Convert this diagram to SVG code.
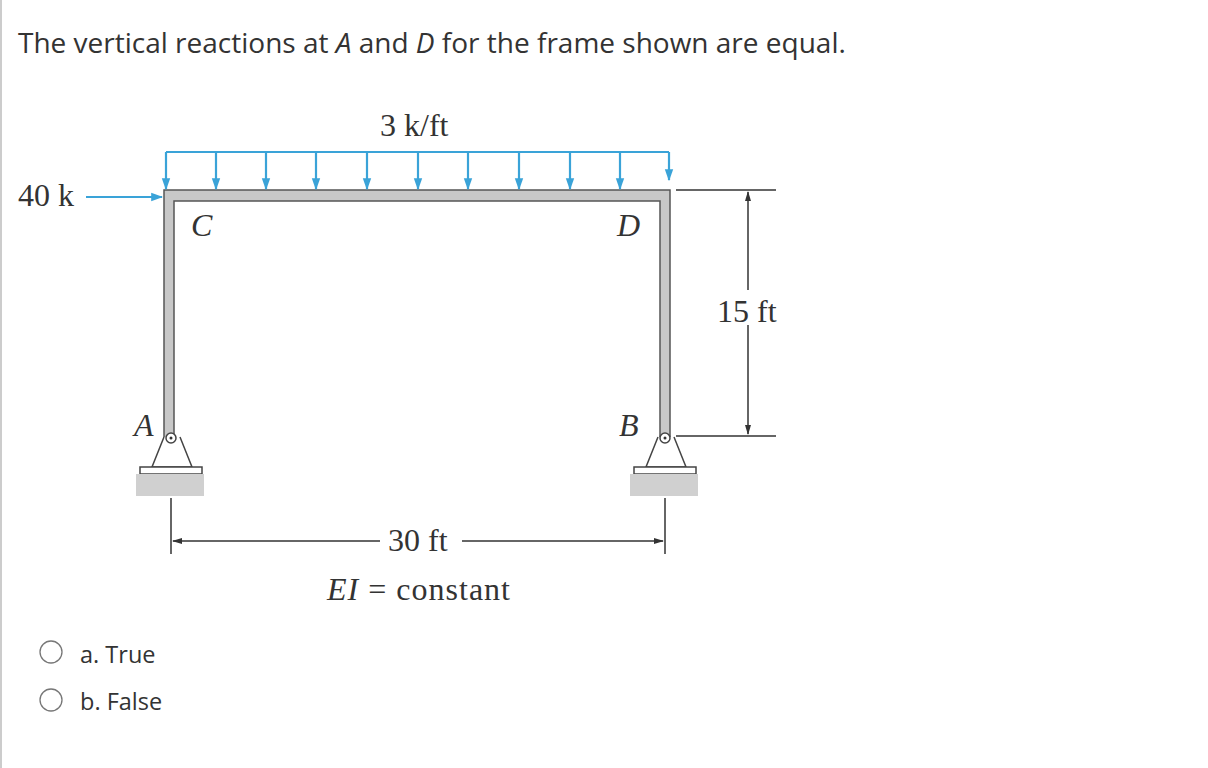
<svg xmlns="http://www.w3.org/2000/svg" width="1208" height="768" viewBox="0 0 1208 768">
<defs>
<marker id="ab" viewBox="0 0 10 10" refX="9" refY="5" markerWidth="12" markerHeight="12" orient="auto" markerUnits="userSpaceOnUse"><path d="M0,1.5 L10,5 L0,8.5 Z" fill="#3aa3d8"/></marker>
<marker id="ak" viewBox="0 0 10 10" refX="9" refY="5" markerWidth="10" markerHeight="10" orient="auto" markerUnits="userSpaceOnUse"><path d="M0,2 L10,5 L0,8 Z" fill="#333"/></marker>
</defs>
<style>
.q{font-family:"Open Sans","Liberation Sans",sans-serif;fill:#333}
.s{font-family:"Liberation Serif",serif;fill:#333;font-size:32px}
.i{font-style:italic}
.blue{stroke:#3aa3d8;stroke-width:2.2;fill:none}
.k{stroke:#333;stroke-width:1.5;fill:none}
</style>
<rect x="0" y="0" width="1208" height="768" fill="#fff"/>
<line x1="1" y1="0" x2="1" y2="768" stroke="#ccc" stroke-width="2"/>
<text class="q" x="18" y="53" font-size="28">The vertical reactions at <tspan font-style="italic">A</tspan> and <tspan font-style="italic">D</tspan> for the frame shown are equal.</text>
<g id="frame">
<path d="M164,440 V190 H670 V440 H660 V201 H174 V440 Z" fill="#c8c8c8" stroke="#555" stroke-width="1.5"/>
</g>
<g id="supportA">
<path d="M164,437 L152,467 H192 L180,437" fill="#fff" stroke="#444" stroke-width="1.5"/>
<circle cx="171" cy="438" r="5" fill="#fff" stroke="#444" stroke-width="1.5"/>
<circle cx="171" cy="438" r="1.5" fill="#333"/>
<rect x="140" y="467" width="62" height="7" fill="#fff" stroke="#444" stroke-width="1.5"/>
<rect x="136" y="474" width="68" height="22" fill="#d0d0d0"/>
</g>
<g id="supportB">
<path d="M658,437 L646,467 H686 L674,437" fill="#fff" stroke="#444" stroke-width="1.5"/>
<circle cx="665" cy="438" r="5" fill="#fff" stroke="#444" stroke-width="1.5"/>
<circle cx="665" cy="438" r="1.5" fill="#333"/>
<rect x="634" y="467" width="62" height="7" fill="#fff" stroke="#444" stroke-width="1.5"/>
<rect x="630" y="474" width="68" height="22" fill="#d0d0d0"/>
</g>
<g id="connectors">
<path class="blue" d="M166,152 H669"/>
<g class="blue" marker-end="url(#ab)">
<line x1="166" y1="152" x2="166" y2="189"/><line x1="216" y1="152" x2="216" y2="189"/><line x1="266" y1="152" x2="266" y2="189"/><line x1="316" y1="152" x2="316" y2="189"/><line x1="367" y1="152" x2="367" y2="189"/><line x1="418" y1="152" x2="418" y2="189"/><line x1="468" y1="152" x2="468" y2="189"/><line x1="519" y1="152" x2="519" y2="189"/><line x1="570" y1="152" x2="570" y2="189"/><line x1="620" y1="152" x2="620" y2="189"/><line x1="669" y1="152" x2="669" y2="180"/>
<line x1="86" y1="197" x2="162" y2="197"/>
</g>
<line class="k" x1="676" y1="190" x2="776" y2="190"/>
<line class="k" x1="676" y1="436" x2="776" y2="436"/>
<line class="k" x1="748" y1="290" x2="748" y2="192" marker-end="url(#ak)"/>
<line class="k" x1="748" y1="325" x2="748" y2="434" marker-end="url(#ak)"/>
<line class="k" x1="171" y1="498" x2="171" y2="554"/>
<line class="k" x1="665" y1="498" x2="665" y2="554"/>
<line class="k" x1="380" y1="541" x2="173" y2="541" marker-end="url(#ak)"/>
<line class="k" x1="462" y1="541" x2="663" y2="541" marker-end="url(#ak)"/>
</g>
<text class="s" x="380" y="136">3 k/ft</text>
<text class="s" x="18" y="206">40 k</text>
<text class="s i" x="191" y="236">C</text>
<text class="s i" x="617" y="236">D</text>
<text class="s i" x="134" y="436">A</text>
<text class="s i" x="619" y="436">B</text>
<text class="s" x="717" y="322">15 ft</text>
<text class="s" x="388" y="551">30 ft</text>
<text class="s" x="327" y="600" textLength="183"><tspan font-style="italic">EI</tspan> = constant</text>
<circle cx="51" cy="652" r="11" fill="#fff" stroke="#777" stroke-width="1.3"/>
<circle cx="51" cy="700" r="11" fill="#fff" stroke="#777" stroke-width="1.3"/>
<text class="q" x="80" y="663" font-size="23.5">a. True</text>
<text class="q" x="80" y="710" font-size="23.5">b. False</text>
</svg>
